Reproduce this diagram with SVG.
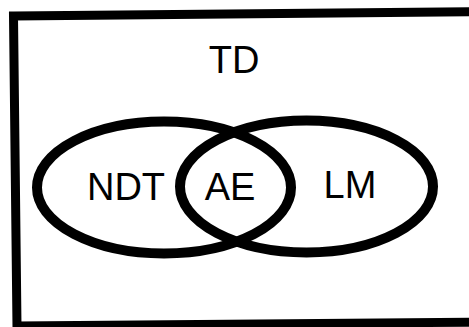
<svg xmlns="http://www.w3.org/2000/svg" width="469" height="327" viewBox="0 0 469 327">
<style>
.set{fill:none;stroke:#000;stroke-width:10}
.lbl{font-family:"Liberation Sans",Arial,sans-serif;font-size:38px;fill:#000;text-anchor:middle}
</style>
<rect width="469" height="327" fill="#fff"/>
<g id="TD">
<polygon points="13.5,16 485,11.5 485,322 17,326" fill="none" stroke="#000" stroke-width="9"/>
<text class="lbl" x="234" y="73">TD</text>
</g>
<g id="NDT">
<ellipse class="set" cx="164" cy="187.5" rx="127" ry="66"/>
<text class="lbl" x="126" y="200">NDT</text>
</g>
<g id="LM">
<ellipse class="set" cx="306.5" cy="186.5" rx="126.5" ry="66"/>
<text class="lbl" x="350" y="198">LM</text>
</g>
<g id="AE">
<text class="lbl" x="230" y="200">AE</text>
</g>
<g id="connectors"></g>
</svg>
